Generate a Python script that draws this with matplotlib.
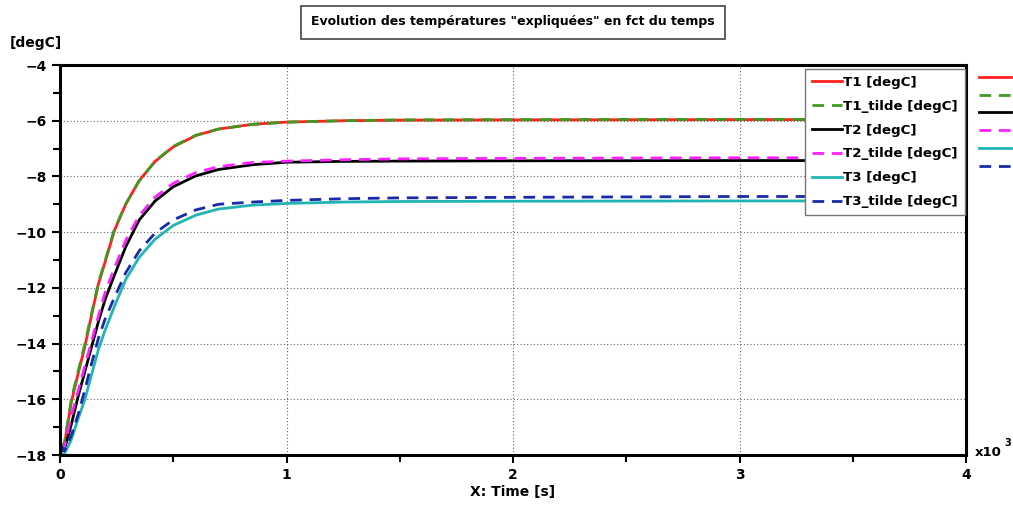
import matplotlib
matplotlib.use("Agg")
import matplotlib.pyplot as plt
from matplotlib.lines import Line2D
from matplotlib.ticker import MultipleLocator
import numpy as np

# time samples [s]
time_s = [0, 20, 50, 80, 110, 140, 170, 200, 240, 290, 350, 420, 500,
          600, 700, 850, 1000, 1250, 1500, 2000, 3000, 4000]

T1 = [-17.8, -17.6, -16.1, -15.08, -14.1, -12.96, -11.85, -11.05, -9.95, -9.0,
      -8.15, -7.46, -6.94, -6.53, -6.3, -6.13, -6.05, -6.0, -5.98, -5.97, -5.96, -5.96]
T1_tilde = [-17.75, -17.55, -16.0, -15.0, -14.0, -12.9, -11.8, -11.0, -9.9, -9.0,
            -8.15, -7.45, -6.92, -6.52, -6.3, -6.13, -6.05, -6.0, -5.97, -5.96, -5.95, -5.95]
T2 = [-17.9, -17.8, -16.9, -15.9, -15.0, -14.1, -13.2, -12.4, -11.55, -10.53,
      -9.56, -8.88, -8.37, -7.98, -7.75, -7.58, -7.49, -7.46, -7.45, -7.44, -7.43, -7.43]
T2_tilde = [-17.85, -17.7, -16.6, -15.7, -14.8, -13.9, -13.0, -12.15, -11.3, -10.3,
            -9.41, -8.74, -8.25, -7.86, -7.65, -7.5, -7.45, -7.4, -7.37, -7.35, -7.33, -7.33]
T3 = [-18.0, -17.95, -17.45, -16.7, -16.0, -15.1, -14.2, -13.5, -12.67, -11.7,
      -10.9, -10.25, -9.76, -9.39, -9.17, -9.03, -8.97, -8.92, -8.9, -8.89, -8.88, -8.88]
T3_tilde = [-17.6, -17.85, -17.3, -16.55, -15.65, -14.7, -13.8, -13.1, -12.35, -11.46,
            -10.67, -10.03, -9.56, -9.2, -9.0, -8.92, -8.86, -8.8, -8.77, -8.75, -8.72, -8.72]

labels = ["T1 [degC]", "T1_tilde [degC]", "T2 [degC]",
          "T2_tilde [degC]", "T3 [degC]", "T3_tilde [degC]"]
colors = ["#ff2020", "#3f9a1f", "#000000", "#ff20ff", "#20b4b4", "#1a2aa8"]
styles = ["-", "--", "-", "--", "-", "--"]

plt.rcParams["font.family"] = "DejaVu Sans"
plt.rcParams["font.weight"] = "bold"

fig = plt.figure(figsize=(10.13, 5.05), dpi=100)
ax = fig.add_axes([60 / 1013, 1 - 455 / 505, 906 / 1013, 390 / 505])

DASH = (4.2, 2.8)

t_k = np.array(time_s) / 1000.0
series = [T1, T1_tilde, T2, T2_tilde, T3, T3_tilde]
handles = []
for vals, lab, col, ls in zip(series, labels, colors, styles):
    (h,) = ax.plot(t_k, vals, color=col, linestyle=ls, linewidth=2.0,
                   dashes=DASH if ls == "--" else (None, None), label=lab)
    handles.append(h)

ax.set_xlim(0, 4)
ax.set_ylim(-18, -4)
ax.xaxis.set_major_locator(MultipleLocator(1))
ax.xaxis.set_minor_locator(MultipleLocator(0.5))
ax.yaxis.set_major_locator(MultipleLocator(2))
ax.yaxis.set_minor_locator(MultipleLocator(1))
ax.tick_params(which="both", direction="out", width=1.5, labelsize=10)
ax.tick_params(which="major", length=6)
ax.tick_params(which="minor", length=5)
for lbl in ax.get_xticklabels() + ax.get_yticklabels():
    lbl.set_fontweight("bold")
ax.grid(which="major", color="#666666", linestyle=(0, (1, 2)), linewidth=0.8)
for sp in ax.spines.values():
    sp.set_linewidth(2.2)

ax.set_xlabel("X: Time [s]", fontsize=10, fontweight="bold", labelpad=2)
fig.text(10 / 1013, 1 - 43 / 505, "[degC]", fontsize=10, fontweight="bold",
         va="center", ha="left")
fig.text(975 / 1013, 1 - 452 / 505, "x10", fontsize=9.5, fontweight="bold",
         va="center", ha="left")
fig.text(1004 / 1013, 1 - 443 / 505, "3", fontsize=7, fontweight="bold",
         va="center", ha="left")

fig.text(513 / 1013, 1 - 22 / 505,
         'Evolution des températures "expliquées" en fct du temps',
         fontsize=9, fontweight="bold", ha="center", va="center",
         bbox=dict(boxstyle="square,pad=0.8", fc="white", ec="#444444", lw=1.2))

leg = fig.legend(handles, labels, loc="upper left",
                 bbox_to_anchor=(805 / 1013, 1 - 69 / 505), borderaxespad=0,
                 handlelength=2.25, handletextpad=0.12,
                 labelspacing=0.82, borderpad=0.5, fancybox=False,
                 framealpha=1, edgecolor="#777777", prop={"weight": "bold", "size": 9.6})
leg.get_frame().set_linewidth(1.0)

# line samples repeated outside the axes on the right
side = [Line2D([], [], color=c, linestyle=s, linewidth=2.0,
               dashes=DASH if s == "--" else (None, None))
        for c, s in zip(colors, styles)]
fig.legend(side, [""] * 6, loc="upper left",
           bbox_to_anchor=(976 / 1013, 1 - 68 / 505), borderaxespad=0,
           frameon=False, fontsize=10, handlelength=2.3, handletextpad=0,
           labelspacing=0.27, borderpad=0.2)

fig.savefig("out.png", dpi=100, facecolor="white")
